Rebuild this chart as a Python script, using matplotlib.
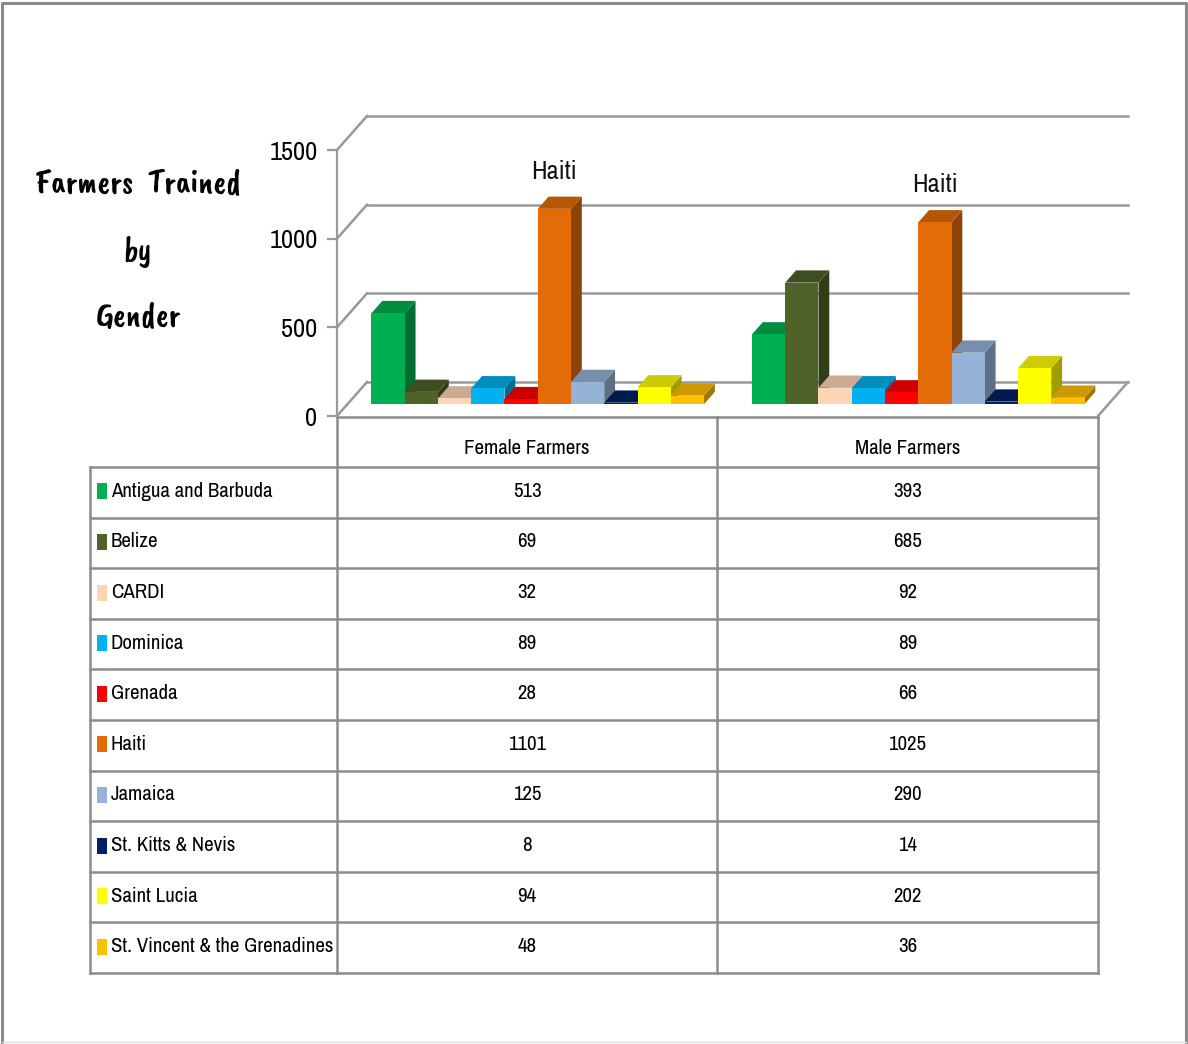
import matplotlib
matplotlib.use("Agg")
import matplotlib.pyplot as plt
from matplotlib.patches import Polygon, Rectangle
from matplotlib.colors import to_rgb

# 数据
countries = ["Antigua and Barbuda", "Belize", "CARDI", "Dominica", "Grenada", "Haiti",
             "Jamaica", "St. Kitts & Nevis", "Saint Lucia", "St. Vincent & the Grenadines"]
groups = ["Female Farmers", "Male Farmers"]
female = [513, 69, 32, 89, 28, 1101, 125, 8, 94, 48]
male = [393, 685, 92, 89, 66, 1025, 290, 14, 202, 36]
yticks = [0, 500, 1000, 1500]
colors = ["#00B050", "#4F6228", "#FCD5B5", "#00B0F0", "#FF0000", "#E36C09",
          "#95B3D7", "#002060", "#FFFF00", "#FFC000"]
label_country = "Haiti"

TXT = ["Archivo Narrow", "DejaVu Sans"]
GRID = "#999999"
W, H = 1188, 1044

fig = plt.figure(figsize=(W / 100, H / 100), dpi=100)

# 表格/边框用像素坐标的底层坐标轴
tab = fig.add_axes([0, 0, 1, 1])
tab.set_xlim(0, W)
tab.set_ylim(H, 0)
tab.axis("off")

# 外框
tab.plot([2, 2, 1186, 1186], [1042, 3, 3, 1042], color="#8A8A8A", lw=2.2)
tab.plot([2, 1186], [1042, 1042], color="#E0E0E0", lw=1)

# 图表区：x 为类别单位(0..2)，y 为数值
x0, x1 = 337, 1098
y0, y1 = 416, 150
ax = fig.add_axes([x0 / W, 1 - y0 / H, (x1 - x0) / W, (y0 - y1) / H])
ax.set_facecolor("none")
ax.set_xlim(0, 2)
ax.set_ylim(0, 1500)
px_x = 2 / (x1 - x0)
px_y = 1500 / (y0 - y1)
dx = 30 * px_x   # 3D 深度偏移
dy = 34 * px_y

for s in ["top", "right", "bottom"]:
    ax.spines[s].set_visible(False)
ax.spines["left"].set_color(GRID)
ax.spines["left"].set_linewidth(1.6)
ax.set_xticks([])
ax.set_yticks(yticks)
ax.set_yticklabels([str(t) for t in yticks], family=TXT, fontsize=19)
ax.tick_params(axis="y", direction="out", length=7, width=1.6, color=GRID, pad=7)

# 背墙网格线和左墙斜线
for v in yticks:
    ax.plot([dx, 2 + dx], [v + dy, v + dy], color=GRID, lw=1.8, clip_on=False, zorder=1)
    ax.plot([0, dx], [v, v + dy], color=GRID, lw=1.8, clip_on=False, zorder=1)
# 地板右边缘
ax.plot([2, 2 + dx], [0, dy], color=GRID, lw=1.8, clip_on=False, zorder=1)


def shade(c, f):
    r, g, b = to_rgb(c)
    return (r * f, g * f, b * f)


margin = 0.063
bw = (1 - 2 * margin) / len(countries)
f0, fd = 0.35, 0.36
z = 5
for g, vals in enumerate([female, male]):
    for i, v in enumerate(vals):
        xl = g + margin + i * bw + f0 * dx
        yb = f0 * dy
        ox, oy = fd * dx, fd * dy
        c = colors[i]
        front = Rectangle((xl, yb), bw, v, facecolor=c, edgecolor="none", zorder=z)
        top = Polygon([(xl, yb + v), (xl + bw, yb + v), (xl + bw + ox, yb + v + oy), (xl + ox, yb + v + oy)],
                      closed=True, facecolor=shade(c, 0.80), edgecolor="none", zorder=z)
        side = Polygon([(xl + bw, yb), (xl + bw + ox, yb + oy), (xl + bw + ox, yb + v + oy), (xl + bw, yb + v)],
                       closed=True, facecolor=shade(c, 0.62), edgecolor="none", zorder=z)
        for p in (side, top, front):
            p.set_clip_on(False)
            ax.add_patch(p)
        z += 1
        if countries[i] == label_country:
            ax.annotate(label_country, xy=(xl + bw / 2, yb + v), xytext=(0, 27),
                        textcoords="offset points", ha="center", va="center",
                        family=TXT, fontsize=19, color="#111111", zorder=50)

# 标题
title_font = ["Caveat Brush", "DejaVu Sans"]
for txt, yy in [("Farmers  Trained", 185), ("by", 252), ("Gender", 318)]:
    tab.text(138, yy, txt, family=title_font, fontsize=24.5, ha="center", va="center", color="black")

# 数据表
row_top = 467
row_bot = 973
n = len(countries)
rh = (row_bot - row_top) / n
col_l, col_a, col_b, col_r = 90, 337, 717, 1098
lkw = dict(color="#8C8C8C", lw=1.8, solid_capstyle="projecting")
fs = 15

tab.plot([col_a, col_r], [y0 + 1, y0 + 1], **lkw)
for k in range(n + 1):
    yy = row_top + k * rh
    tab.plot([col_l, col_r], [yy, yy], **lkw)
tab.plot([col_l, col_l], [row_top, row_bot], **lkw)
tab.plot([col_a, col_a], [y0, row_bot], **lkw)
tab.plot([col_b, col_b], [y0 + 1, row_bot], **lkw)
tab.plot([col_r, col_r], [y0 + 1, row_bot], **lkw)

tab.text((col_a + col_b) / 2, 448, groups[0], family=TXT, fontsize=fs, ha="center", va="center")
tab.text((col_b + col_r) / 2, 448, groups[1], family=TXT, fontsize=fs, ha="center", va="center")

for k, name in enumerate(countries):
    yc = row_top + (k + 0.5) * rh - 1
    tab.add_patch(Rectangle((97, yc - 8), 10, 16, facecolor=colors[k], edgecolor="none"))
    tab.text(111, yc, name, family=TXT, fontsize=fs, ha="left", va="center")
    tab.text((col_a + col_b) / 2, yc, str(female[k]), family=TXT, fontsize=fs, ha="center", va="center")
    tab.text((col_b + col_r) / 2, yc, str(male[k]), family=TXT, fontsize=fs, ha="center", va="center")

fig.savefig("out.png", dpi=100)
